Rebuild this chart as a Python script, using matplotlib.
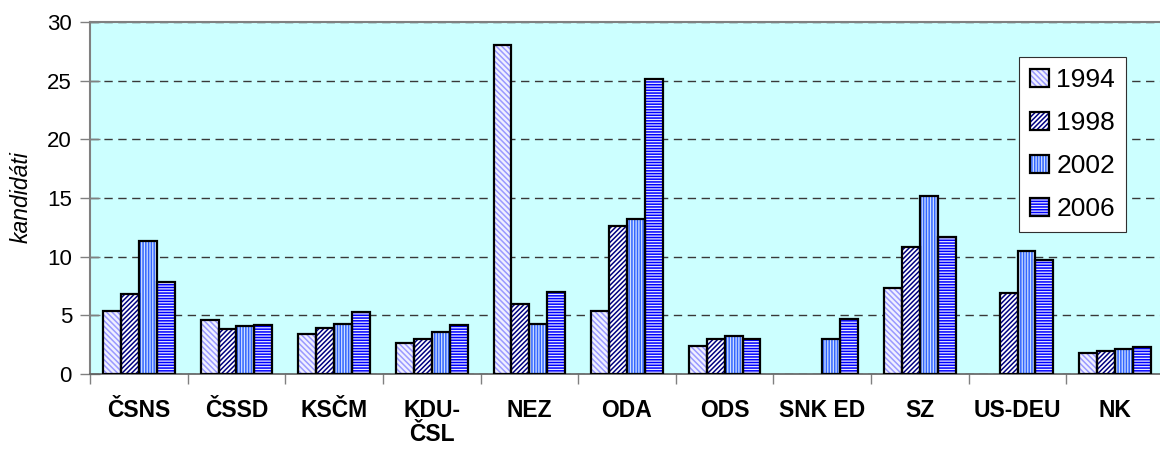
import numpy as np
import matplotlib
matplotlib.use("Agg")
import matplotlib.pyplot as plt
from matplotlib.patches import Patch
from matplotlib.legend_handler import HandlerTuple

categories = ["ČSNS", "ČSSD", "KSČM", "KDU-\nČSL", "NEZ", "ODA", "ODS", "SNK ED", "SZ", "US-DEU", "NK"]
years = ["1994", "1998", "2002", "2006"]
v1994 = [5.4, 4.6, 3.4, 2.6, 28.0, 5.4, 2.4, np.nan, 7.3, np.nan, 1.8]
v1998 = [6.8, 3.8, 3.9, 3.0, 6.0, 12.6, 3.0, np.nan, 10.8, 6.9, 2.0]
v2002 = [11.3, 4.1, 4.3, 3.6, 4.3, 13.2, 3.2, 3.0, 15.2, 10.5, 2.1]
v2006 = [7.8, 4.2, 5.3, 4.2, 7.0, 25.1, 3.0, 4.7, 11.7, 9.7, 2.3]
series = [v1994, v1998, v2002, v2006]

styles = [
    dict(face="#f0f0ff", hatchc="#9999ff", hatch="\\\\\\\\\\\\"),
    dict(face="#ffffff", hatchc="#000080", hatch="///////"),
    dict(face="#cfe0ff", hatchc="#3366ff", hatch="||||||"),
    dict(face="#e8e8ff", hatchc="#0000ff", hatch="------"),
]

plt.rcParams["font.family"] = ["Liberation Sans", "DejaVu Sans"]
plt.rcParams["hatch.linewidth"] = 1.1

W, H = 1160, 451
fig = plt.figure(figsize=(W / 100, H / 100), dpi=100)
left, right, top, bottom = 90, 1164, 22, 374
ax = fig.add_axes([left / W, (H - bottom) / H, (right - left) / W, (bottom - top) / H])
ax.set_facecolor("#ccffff")

x = np.arange(len(categories))
bw = 0.1836
handles = []
for i, (vals, st) in enumerate(zip(series, styles)):
    pos = x + (i - 1.5) * bw
    v = np.array(vals, dtype=float)
    m = ~np.isnan(v)
    ax.bar(pos[m], v[m], width=bw, color=st["face"], edgecolor=st["hatchc"],
           hatch=st["hatch"], linewidth=0, zorder=3)
    ax.bar(pos[m], v[m], width=bw, facecolor="none", edgecolor="black",
           linewidth=1.6, zorder=4)
    h1 = Patch(facecolor=st["face"], edgecolor=st["hatchc"], hatch=st["hatch"], linewidth=0)
    h2 = Patch(facecolor="none", edgecolor="black", linewidth=1.6)
    handles.append((h1, h2))

ax.set_xlim(-0.5, len(categories) - 0.5)
ax.set_ylim(0, 30)
ax.set_yticks([0, 5, 10, 15, 20, 25, 30])
ax.tick_params(axis="y", direction="inout", length=14, width=1, color="#808080",
               labelsize=16, pad=6)
ax.set_xticks(x)
ax.set_xticklabels(categories, fontsize=16.5, fontweight="bold", linespacing=1.05)
ax.tick_params(axis="x", which="major", length=0, pad=18)
ax.set_xticks(np.arange(-0.5, len(categories) + 0.5, 1), minor=True)
ax.tick_params(axis="x", which="minor", direction="out", length=7, width=1, color="#808080")
for lbl in ax.get_xticklabels():
    lbl.set_verticalalignment("top")

ax.yaxis.grid(True, color="#383838", linewidth=1, linestyle=(0, (6, 4)), zorder=1)
ax.set_axisbelow(True)

for s in ["top", "left"]:
    ax.spines[s].set_color("#808080")
    ax.spines[s].set_linewidth(1.5)
ax.spines["bottom"].set_color("#606060")
ax.spines["bottom"].set_linewidth(1.2)
ax.spines["right"].set_visible(False)

fig.text(21 / W, 1 - 197 / H, "kandidáti", rotation=90, fontsize=16.5, style="italic",
         ha="center", va="center")

leg = ax.legend(handles, years, handler_map={tuple: HandlerTuple(ndivide=1, pad=0)},
                loc="upper left", bbox_to_anchor=(1019 / W, 1 - 57 / H),
                bbox_transform=fig.transFigure, fontsize=19, frameon=True,
                fancybox=False, edgecolor="#303030", framealpha=1, facecolor="white",
                handlelength=0.7, handleheight=0.7, handletextpad=0.3,
                labelspacing=0.72, borderpad=0.42, borderaxespad=0)
leg.get_frame().set_linewidth(0.8)
leg.set_zorder(10)

fig.savefig("out.png", dpi=100)
